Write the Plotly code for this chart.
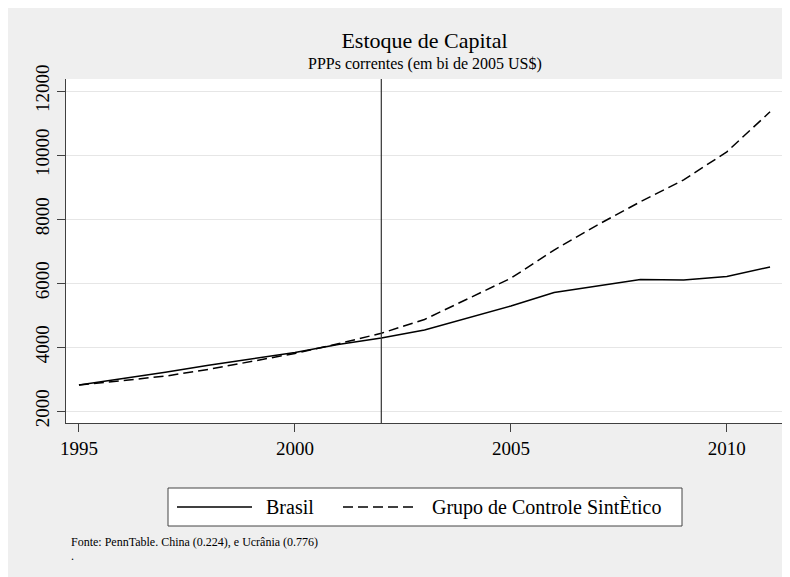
import plotly.graph_objects as go

years = list(range(1995, 2012))
brasil = [2810, 3000, 3210, 3430, 3640, 3830, 4080, 4280, 4530, 4910, 5280, 5700, 5900, 6110, 6090, 6200, 6500]
sintetico = [2810, 2950, 3090, 3300, 3540, 3800, 4100, 4430, 4860, 5500, 6150, 7030, 7810, 8540, 9220, 10100, 11350]
series_names = ["Brasil", "Grupo de Controle SintÈtico"]
xticks = [1995, 2000, 2005, 2010]
yticks = [2000, 4000, 6000, 8000, 10000, 12000]
ytick_text = ["2000", "4000", "6000", "8000", "10000", "12000"]
treat_year = 2002

FONT = "Liberation Serif"
W, H = 790, 577
ML, MR, MT, MB = 58, 15, 71, 162
PW = W - ML - MR
PH = H - MT - MB


def px(fx):
    return (fx - ML) / PW


def py(fy):
    return (H - MB - fy) / PH


fig = go.Figure()
fig.add_trace(go.Scatter(x=years, y=brasil, mode="lines", name=series_names[0],
                         line=dict(color="black", width=1.5)))
fig.add_trace(go.Scatter(x=years, y=sintetico, mode="lines", name=series_names[1],
                         line=dict(color="black", width=1.5, dash="10px,5px")))

shapes = [
    dict(type="line", x0=treat_year, x1=treat_year, y0=0, y1=1, xref="x", yref="paper",
         line=dict(color="#333333", width=1.2)),
    # legend box
    dict(type="rect", xref="paper", yref="paper", x0=px(160), x1=px(674), y0=py(518), y1=py(480),
         fillcolor="white", line=dict(color="#444444", width=1)),
    dict(type="line", xref="paper", yref="paper", x0=px(169), x1=px(244), y0=py(499), y1=py(499),
         line=dict(color="black", width=1.5)),
    dict(type="line", xref="paper", yref="paper", x0=px(335), x1=px(410), y0=py(499), y1=py(499),
         line=dict(color="black", width=1.5, dash="10px,5px")),
]

annotations = [
    dict(text="PPPs correntes (em bi de 2005 US$)", xref="paper", yref="paper",
         x=0.5, y=py(56), xanchor="center", yanchor="middle",
         showarrow=False, font=dict(size=16, family=FONT)),
    dict(text=series_names[0], xref="paper", yref="paper", x=px(256), y=py(499),
         xanchor="left", yanchor="middle", showarrow=False, font=dict(size=20, family=FONT)),
    dict(text=series_names[1], xref="paper", yref="paper", x=px(422), y=py(499),
         xanchor="left", yanchor="middle", showarrow=False, font=dict(size=20, family=FONT)),
    dict(text="Fonte: PennTable. China (0.224), e Ucrânia (0.776)", xref="paper", yref="paper",
         x=px(61), y=py(534), xanchor="left", yanchor="middle",
         showarrow=False, font=dict(size=12, family=FONT)),
    dict(text=".", xref="paper", yref="paper",
         x=px(61), y=py(548), xanchor="left", yanchor="middle",
         showarrow=False, font=dict(size=12, family=FONT)),
]

fig.update_layout(
    width=W, height=H,
    paper_bgcolor="#efefef", plot_bgcolor="white",
    margin=dict(l=ML, r=MR, t=MT, b=MB),
    font=dict(family=FONT, color="black", size=16),
    title=dict(text="Estoque de Capital", xref="paper", x=0.5, xanchor="center",
               yref="container", y=1 - 32 / H, yanchor="middle",
               font=dict(size=22, family=FONT, color="black")),
    showlegend=False,
    xaxis=dict(range=[1994.70, 2011.30], tickmode="array", tickvals=xticks,
               showgrid=False, zeroline=False, showline=True, linecolor="#404040", linewidth=1,
               ticks="outside", ticklen=8, tickcolor="#404040",
               tickfont=dict(size=19, family=FONT)),
    yaxis=dict(range=[1625, 12375], tickmode="array", tickvals=yticks, ticktext=ytick_text,
               showgrid=True, gridcolor="#e6e6e6", gridwidth=1, zeroline=False,
               showline=True, linecolor="#404040", linewidth=1,
               ticks="outside", ticklen=8, tickcolor="#404040", tickangle=-90,
               tickfont=dict(size=19, family=FONT)),
    shapes=shapes,
    annotations=annotations,
)

fig.write_html("out.html")
